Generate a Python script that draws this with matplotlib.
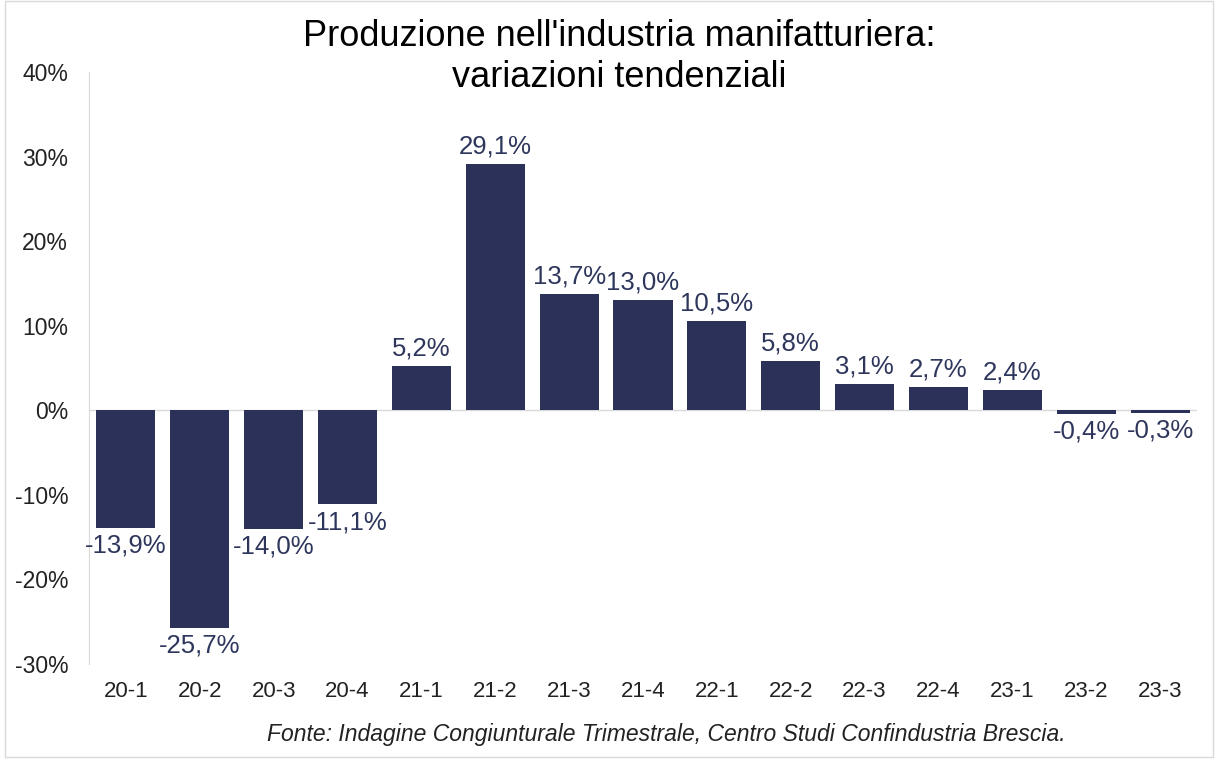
import matplotlib
matplotlib.use('Agg')
import matplotlib.pyplot as plt
from matplotlib.patches import Rectangle

quarters = ['20-1', '20-2', '20-3', '20-4', '21-1', '21-2', '21-3', '21-4',
            '22-1', '22-2', '22-3', '22-4', '23-1', '23-2', '23-3']
values = [-13.9, -25.7, -14.0, -11.1, 5.2, 29.1, 13.7, 13.0,
          10.5, 5.8, 3.1, 2.7, 2.4, -0.4, -0.3]
y_ticks = [-30, -20, -10, 0, 10, 20, 30, 40]

bar_color = '#2b3158'
label_color = '#2f365c'
plt.rcParams['font.family'] = ['Liberation Sans', 'DejaVu Sans']

fig = plt.figure(figsize=(12.22, 7.66), dpi=100)
ax = fig.add_axes([89/1222, 1 - 664/766, (1197-89)/1222, (664-72)/766])

x = range(len(quarters))
ax.bar(x, values, width=0.8, color=bar_color, zorder=2)
ax.axhline(0, color='#d9d9d9', lw=1, zorder=1)

for i, v in enumerate(values):
    txt = '{:.1f}%'.format(v).replace('.', ',')
    if v >= 0:
        ax.text(i, v + 0.7, txt, ha='center', va='bottom', fontsize=18.5, color=label_color)
    else:
        ax.text(i, v - 0.7, txt, ha='center', va='top', fontsize=18.5, color=label_color)

ax.set_xlim(-0.5, len(quarters) - 0.5)
ax.set_ylim(-30, 40)
ax.set_yticks(y_ticks)
ax.set_yticklabels(['{}%'.format(t) for t in y_ticks], fontsize=16.5, color='#222222')
ax.set_xticks(list(x))
ax.set_xticklabels(quarters, fontsize=16, color='#222222')
ax.tick_params(length=0, pad=12)
ax.tick_params(axis='y', pad=15)

for s in ['top', 'right', 'bottom']:
    ax.spines[s].set_visible(False)
ax.spines['left'].set_color('#d9d9d9')

fig.text(0.507, 0.975, "Produzione nell'industria manifatturiera:\nvariazioni tendenziali",
         ha='center', va='top', fontsize=26, linespacing=1.2)
fig.text(0.545, 1 - 735/766, 'Fonte: Indagine Congiunturale Trimestrale, Centro Studi Confindustria Brescia.',
         ha='center', va='center', fontsize=16.5, style='italic', color='#222222')

fig.patches.append(Rectangle((5/1222, 1 - 757/766), 1208/1222, 756/766, transform=fig.transFigure,
                             fill=False, edgecolor='#d9d9d9', lw=1))

fig.savefig('out.png', dpi=100)
